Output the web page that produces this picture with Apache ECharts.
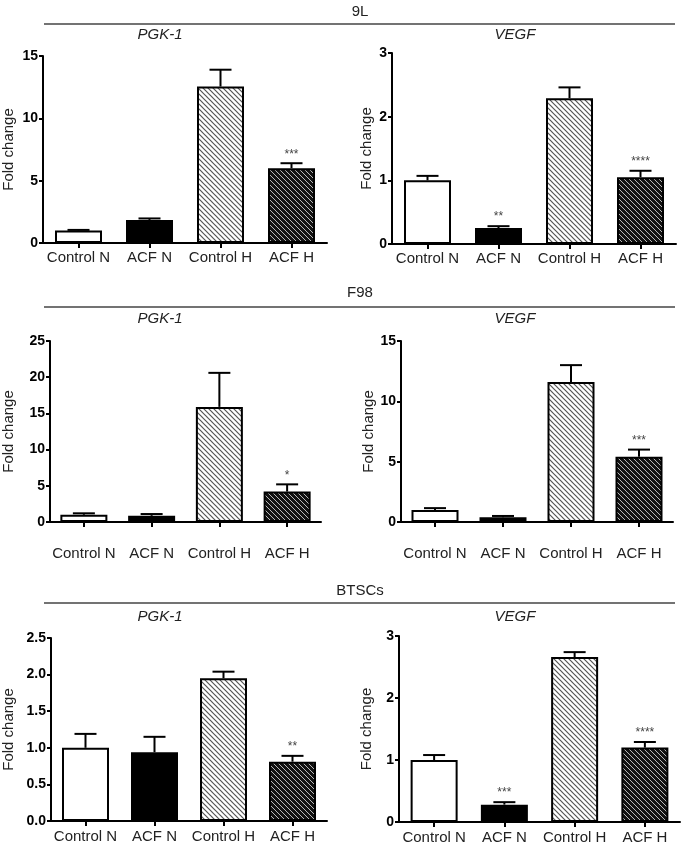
<!DOCTYPE html>
<html>
<head>
<meta charset="utf-8">
<script src="https://cdn.jsdelivr.net/npm/echarts@6/dist/echarts.min.js"></script>
<style>
html,body{margin:0;padding:0;background:#fff;}
#chart{width:685px;height:845px;}
</style>
</head>
<body>
<div id="chart"></div>
<script>
// ---- data ----
var categories = ['Control N', 'ACF N', 'Control H', 'ACF H'];
var rowTitles = ['9L', 'F98', 'BTSCs'];
var geneTitles = ['PGK-1', 'VEGF'];

var pgk9L = [1.0, 1.85, 12.55, 6.0];
var pgk9LErr = [0.05, 0.12, 1.35, 0.4];
var pgk9LStars = ['', '', '', '***'];

var vegf9L = [1.0, 0.25, 2.29, 1.05];
var vegf9LErr = [0.07, 0.03, 0.17, 0.1];
var vegf9LStars = ['', '**', '', '****'];

var pgkF98 = [1.0, 0.85, 15.9, 4.2];
var pgkF98Err = [0.2, 0.25, 4.7, 1.0];
var pgkF98Stars = ['', '', '', '*'];

var vegfF98 = [1.0, 0.4, 11.6, 5.4];
var vegfF98Err = [0.15, 0.1, 1.4, 0.6];
var vegfF98Stars = ['', '', '', '***'];

var pgkBTSC = [1.0, 0.94, 1.95, 0.81];
var pgkBTSCErr = [0.19, 0.21, 0.09, 0.08];
var pgkBTSCStars = ['', '', '', '**'];

var vegfBTSC = [1.0, 0.28, 2.66, 1.2];
var vegfBTSCErr = [0.08, 0.04, 0.08, 0.09];
var vegfBTSCStars = ['', '***', '', '****'];

// y axis ranges: [max, interval]
var yMax = [15, 3, 25, 15, 2.5, 3];
var yInterval = [5, 1, 5, 5, 0.5, 1];

var panelValues = [pgk9L, vegf9L, pgkF98, vegfF98, pgkBTSC, vegfBTSC];
var panelErrors = [pgk9LErr, vegf9LErr, pgkF98Err, vegfF98Err, pgkBTSCErr, vegfBTSCErr];
var panelStars = [pgk9LStars, vegf9LStars, pgkF98Stars, vegfF98Stars, pgkBTSCStars, vegfBTSCStars];

// ---- layout (pixels) ----
var grids = [
  {left: 43, top: 56, width: 284, height: 187},
  {left: 392, top: 53, width: 284, height: 191},
  {left: 49, top: 341, width: 272, height: 181},
  {left: 401, top: 341, width: 272, height: 181},
  {left: 51, top: 638, width: 276, height: 183},
  {left: 399, top: 636, width: 281, height: 187}
];
var labelMargins = [7, 7, 24, 24, 8, 8];
var nameGaps = [27, 18, 34, 25, 35, 25];
var FONT = 'Liberation Sans, Arial, Helvetica, sans-serif';

function hatch(bg, fg, lw) {
  var s = 5;
  var c = document.createElement('canvas');
  c.width = s; c.height = s;
  var ctx = c.getContext('2d');
  ctx.fillStyle = bg;
  ctx.fillRect(0, 0, s, s);
  ctx.strokeStyle = fg;
  ctx.lineWidth = lw;
  [-s, 0, s].forEach(function (k) {
    ctx.beginPath();
    ctx.moveTo(k - 1, -1);
    ctx.lineTo(k + s + 1, s + 1);
    ctx.stroke();
  });
  return c;
}
var fills = [
  '#ffffff',
  '#000000',
  {image: hatch('#ffffff', '#555555', 1.2), repeat: 'repeat'},
  {image: hatch('#111111', '#cccccc', 0.9), repeat: 'repeat'}
];

var option = {
  animation: false,
  backgroundColor: '#ffffff',
  grid: [], xAxis: [], yAxis: [], series: [],
  graphic: []
};

grids.forEach(function (g, p) {
  option.grid.push(g);
  option.xAxis.push({
    type: 'category', gridIndex: p, data: categories,
    axisLine: {lineStyle: {color: '#000', width: 2}},
    axisTick: {show: true, length: 5, lineStyle: {color: '#000', width: 2}, alignWithLabel: true},
    axisLabel: {color: '#222', fontSize: 15, fontFamily: FONT, margin: labelMargins[p], interval: 0}
  });
  option.yAxis.push({
    type: 'value', gridIndex: p, min: 0, max: yMax[p], interval: yInterval[p],
    name: 'Fold change', nameLocation: 'middle', nameGap: nameGaps[p], nameRotate: 90,
    nameTextStyle: {color: '#222', fontSize: 15, fontFamily: FONT},
    axisLine: {show: true, lineStyle: {color: '#000', width: 2}},
    axisTick: {show: true, length: 4, lineStyle: {color: '#000', width: 2}},
    splitLine: {show: false},
    axisLabel: {
      color: '#000', fontSize: 14, fontWeight: 'bold', fontFamily: FONT, margin: 5,
      formatter: (p === 4) ? function (v) { return v.toFixed(1); } : function (v) { return String(v); }
    }
  });
  var vals = panelValues[p];
  var errs = panelErrors[p];
  var stars = panelStars[p];
  option.series.push({
    type: 'bar', xAxisIndex: p, yAxisIndex: p, barWidth: 47, z: 2,
    data: vals.map(function (v, i) {
      return {value: v, itemStyle: {color: fills[i], borderColor: '#000', borderWidth: 2}};
    })
  });
  option.series.push({
    type: 'custom', xAxisIndex: p, yAxisIndex: p, z: 3,
    encode: {x: 0, y: [1, 2]},
    data: vals.map(function (v, i) { return [i, v, v + errs[i]]; }),
    renderItem: function (params, api) {
      var base = api.coord([api.value(0), api.value(1)]);
      var top = api.coord([api.value(0), api.value(2)]);
      var st = stars[params.dataIndex];
      var children = [
        {type: 'line', shape: {x1: base[0], y1: base[1], x2: top[0], y2: top[1]}, style: {stroke: '#000', lineWidth: 2}},
        {type: 'line', shape: {x1: top[0] - 11, y1: top[1], x2: top[0] + 11, y2: top[1]}, style: {stroke: '#000', lineWidth: 2}}
      ];
      if (st) {
        children.push({type: 'text', style: {x: top[0], y: top[1] - 3, text: st, fill: '#444', fontSize: 12, fontFamily: FONT, align: 'center', verticalAlign: 'bottom'}});
      }
      return {type: 'group', children: children};
    }
  });
});

// row headings and separator lines
var rowHead = [
  {titleY: 12, lineY: 24, geneY: 35},
  {titleY: 293, lineY: 307, geneY: 319},
  {titleY: 591, lineY: 603, geneY: 617}
];
rowHead.forEach(function (r, k) {
  option.graphic.push({type: 'text', style: {x: 360, y: r.titleY, text: rowTitles[k], fill: '#222', fontSize: 15, fontFamily: FONT, align: 'center', verticalAlign: 'middle'}});
  option.graphic.push({type: 'line', shape: {x1: 44, y1: r.lineY, x2: 675, y2: r.lineY}, style: {stroke: '#444', lineWidth: 1.5}});
  option.graphic.push({type: 'text', style: {x: 160, y: r.geneY, text: geneTitles[0], fill: '#222', fontSize: 15, fontStyle: 'italic', fontFamily: FONT, align: 'center', verticalAlign: 'middle'}});
  option.graphic.push({type: 'text', style: {x: 515, y: r.geneY, text: geneTitles[1], fill: '#222', fontSize: 15, fontStyle: 'italic', fontFamily: FONT, align: 'center', verticalAlign: 'middle'}});
});

var chart = echarts.init(document.getElementById('chart'), null, {renderer: 'canvas'});
chart.setOption(option);
</script>
</body>
</html>
